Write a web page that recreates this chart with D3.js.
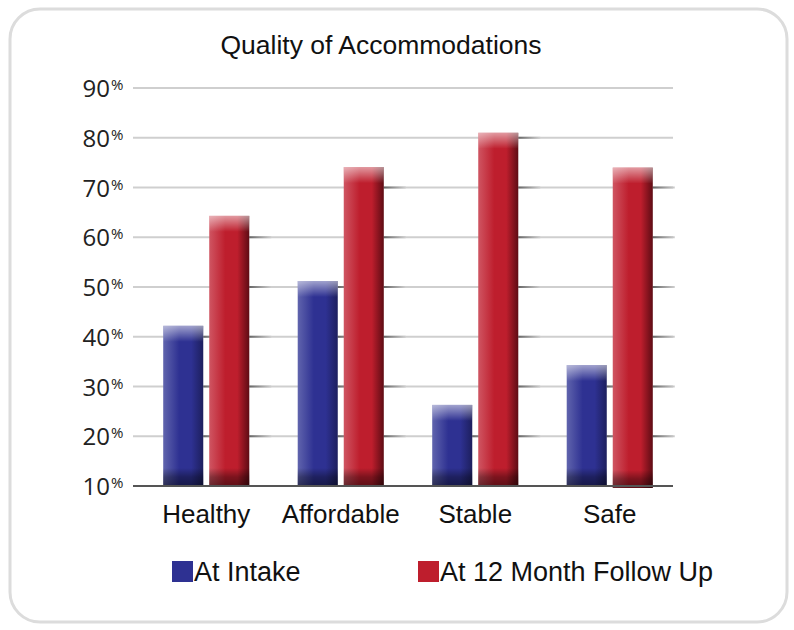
<!DOCTYPE html>
<html>
<head>
<meta charset="utf-8">
<script src="https://cdn.jsdelivr.net/npm/d3@7"></script>
<style>
  body { margin: 0; background: #fff; }
  svg { display: block; }
</style>
</head>
<body>
<svg id="chart" width="794" height="630"></svg>
<script>
// data
var categories = ['Healthy', 'Affordable', 'Stable', 'Safe']
var series = ['At Intake', 'At 12 Month Follow Up']
var intake = [42.2, 51.2, 26.3, 34.3]
var followUp = [64.3, 74.1, 81, 74]
var ticks = [10, 20, 30, 40, 50, 60, 70, 80, 90]

var svg = d3.select('#chart')
var defs = svg.append('defs')

// frame
svg.append('rect')
  .attr('x', 10).attr('y', 9).attr('width', 777).attr('height', 613)
  .attr('rx', 30).attr('ry', 30)
  .attr('fill', '#fff').attr('stroke', '#dcdcdc').attr('stroke-width', 3)

var y = d3.scaleLinear().domain([10, 90]).range([486, 88])
var x0 = d3.scaleBand().domain(categories).range([139, 677])
  .paddingInner(0.36).paddingOuter(0.18)
var x1 = d3.scaleBand().domain(series).range([0, x0.bandwidth()]).paddingInner(0.13)

// gradients for the shiny bars
function barGradients (id, light, mid, dark) {
  var g = defs.append('linearGradient').attr('id', id + '-h')
    .attr('x1', '0').attr('x2', '1').attr('y1', '0').attr('y2', '0')
  g.append('stop').attr('offset', '0').attr('stop-color', light)
  g.append('stop').attr('offset', '0.4').attr('stop-color', mid)
  g.append('stop').attr('offset', '0.7').attr('stop-color', mid)
  g.append('stop').attr('offset', '1').attr('stop-color', dark)
  var v = defs.append('linearGradient').attr('id', id + '-v')
    .attr('x1', '0').attr('x2', '0').attr('y1', '0').attr('y2', '1')
  v.append('stop').attr('offset', '0').attr('stop-color', '#fff').attr('stop-opacity', 0.55)
  v.append('stop').attr('offset', '1').attr('stop-color', '#fff').attr('stop-opacity', 0)
  var b = defs.append('linearGradient').attr('id', id + '-b')
    .attr('x1', '0').attr('x2', '0').attr('y1', '0').attr('y2', '1')
  b.append('stop').attr('offset', '0').attr('stop-color', '#000').attr('stop-opacity', 0)
  b.append('stop').attr('offset', '0.5').attr('stop-color', '#000').attr('stop-opacity', 0.35)
  b.append('stop').attr('offset', '1').attr('stop-color', '#000').attr('stop-opacity', 0.5)
}
barGradients('blue', '#6064ad', '#2e3192', '#1d1f5e')
barGradients('red', '#cf5562', '#be1e2d', '#5e0c14')

// shadow of a bar falling on the gridlines
var sh = defs.append('linearGradient').attr('id', 'grid-shadow')
  .attr('x1', '0').attr('x2', '1').attr('y1', '0').attr('y2', '0')
sh.append('stop').attr('offset', '0').attr('stop-color', '#666')
sh.append('stop').attr('offset', '1').attr('stop-color', '#cfcfcf')

// title
svg.append('text')
  .attr('x', 381).attr('y', 54)
  .attr('text-anchor', 'middle')
  .style('font-family', 'Liberation Sans, Arial, sans-serif')
  .style('font-size', '26.5px')
  .style('fill', '#111')
  .text('Quality of Accommodations')

// gridlines
svg.append('g').selectAll('line')
  .data(ticks.slice(1))
  .join('line')
  .attr('x1', 133).attr('x2', 673)
  .attr('y1', d => y(d)).attr('y2', d => y(d))
  .attr('stroke', '#cfcfcf').attr('stroke-width', 2)

// y labels with small percent sign
svg.append('g').selectAll('text')
  .data(ticks)
  .join('text')
  .attr('x', 110).attr('y', d => y(d) + 9)
  .attr('text-anchor', 'end')
  .style('font-family', 'Open Sans, sans-serif')
  .style('font-size', '24px')
  .style('fill', '#222')
  .text(d => d)
svg.append('g').selectAll('text')
  .data(ticks)
  .join('text')
  .attr('x', 111).attr('y', d => y(d) + 2)
  .style('font-family', 'Open Sans, sans-serif')
  .style('font-size', '15px')
  .style('fill', '#222')
  .text('%')

// bars
var groups = svg.append('g').selectAll('g')
  .data(categories)
  .join('g')
  .attr('transform', d => 'translate(' + x0(d) + ',0)')

var ids = ['blue', 'red']
groups.each(function (c, i) {
  var vals = [intake[i], followUp[i]]
  var g = d3.select(this)
  series.forEach(function (s, j) {
    var bx = x1(s), bw = x1.bandwidth()
    var top = y(vals[j]), bot = y(10) + (i === 3 && j === 1 ? 2 : 0)
    // shadows on the gridlines right of the bar
    ticks.slice(1).filter(t => y(t) > top + 4).forEach(function (t) {
      g.append('rect').attr('x', bx + bw).attr('y', y(t) - 1).attr('width', 22).attr('height', 2)
        .attr('fill', 'url(#grid-shadow)')
    })
    g.append('rect').attr('x', bx).attr('y', top).attr('width', bw).attr('height', bot - top)
      .attr('fill', 'url(#' + ids[j] + '-h)')
    g.append('rect').attr('x', bx).attr('y', top).attr('width', bw).attr('height', 16)
      .attr('fill', 'url(#' + ids[j] + '-v)')
    g.append('rect').attr('x', bx).attr('y', bot - 18).attr('width', bw).attr('height', 18)
      .attr('fill', 'url(#' + ids[j] + '-b)')
  })
})

// baseline
svg.append('line')
  .attr('x1', 133).attr('x2', 673)
  .attr('y1', y(10)).attr('y2', y(10))
  .attr('stroke', '#555').attr('stroke-width', 2)

// category labels
svg.append('g').selectAll('text')
  .data(categories)
  .join('text')
  .attr('x', d => x0(d) + x0.bandwidth() / 2)
  .attr('y', 523)
  .attr('text-anchor', 'middle')
  .style('font-family', 'Liberation Sans, Arial, sans-serif')
  .style('font-size', '26px')
  .style('fill', '#111')
  .text(d => d)

// legend
var legendX = [172, 418]
var colors = ['#2e3192', '#be1e2d']
var lg = svg.append('g').selectAll('g')
  .data(series)
  .join('g')
  .attr('transform', (d, i) => 'translate(' + legendX[i] + ',561)')
lg.append('rect').attr('width', 21).attr('height', 21).attr('fill', (d, i) => colors[i])
lg.append('text')
  .attr('x', 22).attr('y', 20)
  .style('font-family', 'Liberation Sans, Arial, sans-serif')
  .style('font-size', '27px')
  .style('fill', '#111')
  .text(d => d)
</script>
</body>
</html>
